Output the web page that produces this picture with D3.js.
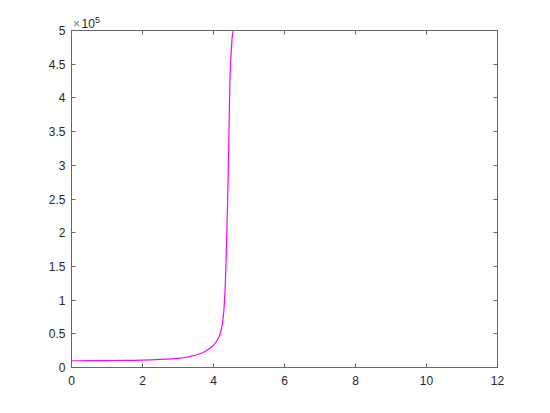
<!DOCTYPE html>
<html>
<head>
<meta charset="utf-8">
<script src="https://cdn.jsdelivr.net/npm/d3@7"></script>
<style>
  body { margin: 0; background: #fff; }
  text { font-family: "Liberation Sans", Arial, sans-serif; fill: #262626; }
</style>
</head>
<body>
<div id="chart"></div>
<script>
// Values
var xs = [0, 0.5, 1, 1.5, 2, 2.5, 3, 3.3, 3.6, 3.8, 4.0, 4.1, 4.2, 4.25, 4.3, 4.33, 4.36, 4.4, 4.43, 4.46, 4.5, 4.53, 4.56, 6, 8, 10, 12];
var ys = [10000, 10100, 10300, 10600, 11000, 12000, 13500, 16000, 20000, 25000, 33000, 40000, 52000, 65000, 90000, 120000, 170000, 250000, 330000, 420000, 470000, 492000, 500000, 500000, 500000, 500000, 500000];
var xTicks = [0, 2, 4, 6, 8, 10, 12];
var yTicks = [0, 50000, 100000, 150000, 200000, 250000, 300000, 350000, 400000, 450000, 500000];

// Set the dimensions and margins of the graph
var margin = {top: 30.5, left: 71.5},
    width = 426,
    height = 337;

var svg = d3.select("#chart")
    .append("svg")
    .attr("width", 550)
    .attr("height", 413)
    .append("g")
    .attr("transform", "translate(" + margin.left + "," + margin.top + ")");

var x = d3.scaleLinear().domain([0, 12]).range([0, width]);
var y = d3.scaleLinear().domain([0, 500000]).range([height, 0]);

var data = xs.map((d, i) => ({x: d, y: ys[i]}));

// Curve
var line = d3.line()
    .curve(d3.curveMonotoneX)
    .x(d => x(d.x))
    .y(d => y(d.y));

svg.append("path")
    .datum(data)
    .attr("fill", "none")
    .attr("stroke", "#ff00ff")
    .attr("stroke-width", 1.2)
    .attr("d", line);

// Axes (box with inward ticks on all sides)
var axisColor = "#666";
var tickLen = 4;

svg.append("rect")
    .attr("width", width)
    .attr("height", height)
    .attr("fill", "none")
    .attr("stroke", axisColor)
    .attr("stroke-width", 1);

svg.selectAll(".xtick")
    .data(xTicks)
    .enter().append("g")
    .each(function(d) {
        var g = d3.select(this);
        var px = Math.round(x(d));
        g.append("line").attr("x1", px).attr("x2", px).attr("y1", height).attr("y2", height - tickLen).attr("stroke", axisColor);
        g.append("line").attr("x1", px).attr("x2", px).attr("y1", 0).attr("y2", tickLen).attr("stroke", axisColor);
        g.append("text")
            .attr("x", px)
            .attr("y", height + 17)
            .attr("text-anchor", "middle")
            .style("font-size", "12px")
            .text(d);
    });

svg.selectAll(".ytick")
    .data(yTicks)
    .enter().append("g")
    .each(function(d) {
        var g = d3.select(this);
        var py = Math.round(y(d));
        g.append("line").attr("x1", 0).attr("x2", tickLen).attr("y1", py).attr("y2", py).attr("stroke", axisColor);
        g.append("line").attr("x1", width).attr("x2", width - tickLen).attr("y1", py).attr("y2", py).attr("stroke", axisColor);
        g.append("text")
            .attr("x", -6)
            .attr("y", py + 4)
            .attr("text-anchor", "end")
            .style("font-size", "12px")
            .text(d / 100000);
    });

// Exponent label
var ex = svg.append("text")
    .attr("x", 1.5)
    .attr("y", -3)
    .style("font-size", "12px");
ex.append("tspan").style("fill", "#777").text("\u00d7");
ex.append("tspan").attr("dx", 1.5).text("10");
ex.append("tspan").attr("dy", -5).style("font-size", "9px").text("5");
</script>
</body>
</html>
